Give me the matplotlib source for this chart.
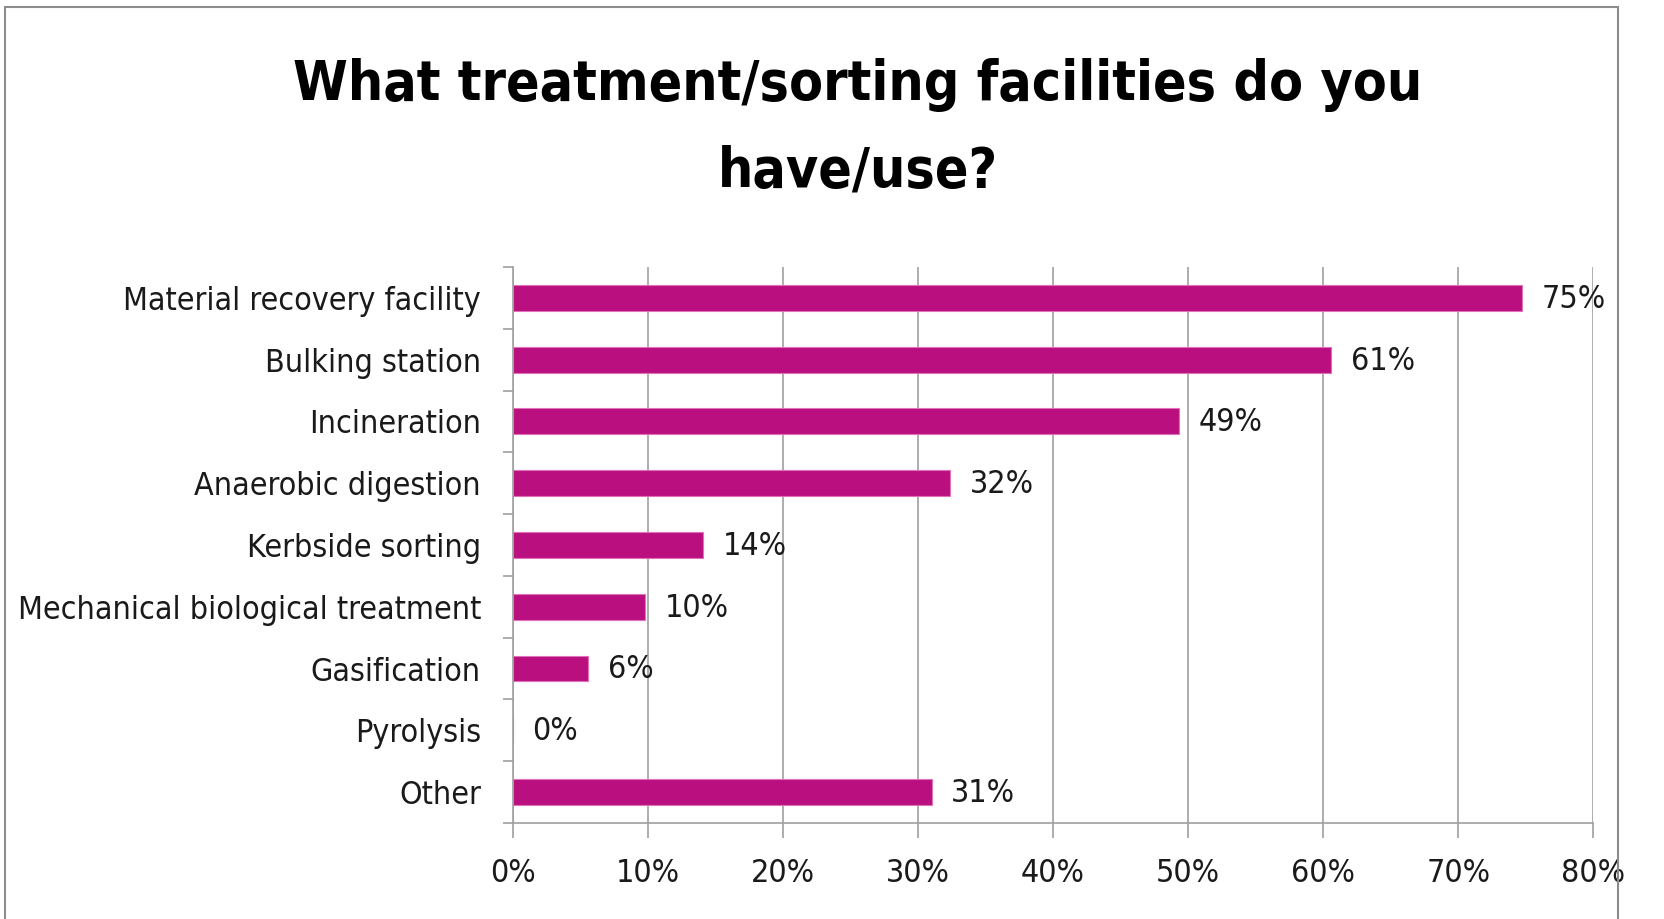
import matplotlib.pyplot as plt
from matplotlib.patches import Rectangle
import numpy as np

# survey answers, top to bottom
facilities = ["Material recovery facility", "Bulking station", "Incineration",
              "Anaerobic digestion", "Kerbside sorting",
              "Mechanical biological treatment", "Gasification", "Pyrolysis", "Other"]
shares = [74.7, 60.6, 49.3, 32.4, 14.1, 9.8, 5.6, 0.0, 31.0]
x_ticks = [0, 10, 20, 30, 40, 50, 60, 70, 80]

bar_color = "#BA0F7E"
grey = "#A0A0A0"
text_color = "#1A1A1A"
font = dict(family="DejaVu Sans", stretch="condensed")

fig = plt.figure(figsize=(16.65, 9.19), dpi=100)
ax = fig.add_axes([0.308, 0.1045, 0.649, 0.605])

y = np.arange(len(facilities))
ax.barh(y, shares, height=0.42, color=bar_color, edgecolor="#E070B8", linewidth=0.8, zorder=3)

ax.set_xlim(0, 80)
ax.set_ylim(len(facilities) - 0.5, -0.5)
ax.set_xticks(x_ticks)
ax.set_xticklabels([f"{t}%" for t in x_ticks], fontsize=23, color=text_color, **font)
ax.set_yticks(y)
ax.set_yticklabels(facilities, fontsize=23, color=text_color, **font)
ax.set_yticks(np.arange(len(facilities) + 1) - 0.5, minor=True)
ax.tick_params(axis="y", which="major", length=0, pad=23)
ax.tick_params(axis="y", which="minor", length=7, color=grey, width=1.2)
ax.tick_params(axis="x", length=11, color=grey, width=1.2, pad=14)

ax.grid(axis="x", color=grey, linewidth=1.2, zorder=0)
for side in ["top", "right"]:
    ax.spines[side].set_visible(False)
for side in ["left", "bottom"]:
    ax.spines[side].set_color(grey)
    ax.spines[side].set_linewidth(1.2)

# value labels at the end of each bar
for yi, v in zip(y, shares):
    ax.annotate(f"{v:.0f}%", (v, yi), xytext=(14, -1), textcoords="offset points",
                ha="left", va="center", fontsize=23, color=text_color, **font)

# two-line title, sized so the first line spans the plot width
t1 = fig.text(858 / 1665, 1 - 100 / 919, "What treatment/sorting facilities do you",
              ha="center", va="baseline", fontsize=50, fontweight="bold", **font)
t2 = fig.text(858 / 1665, 1 - 187 / 919, "have/use?",
              ha="center", va="baseline", fontsize=50, fontweight="bold", **font)
fig.canvas.draw()
w = t1.get_window_extent().width
size = 50 * 1131 / w
t1.set_fontsize(size)
t2.set_fontsize(size)

# chart area border
fig.add_artist(Rectangle((5 / 1665, -0.05), 1613 / 1665, 1.05 - 7 / 919, transform=fig.transFigure,
                         fill=False, edgecolor="#8C8C8C", linewidth=1.5))

fig.savefig("out.png", dpi=100)
